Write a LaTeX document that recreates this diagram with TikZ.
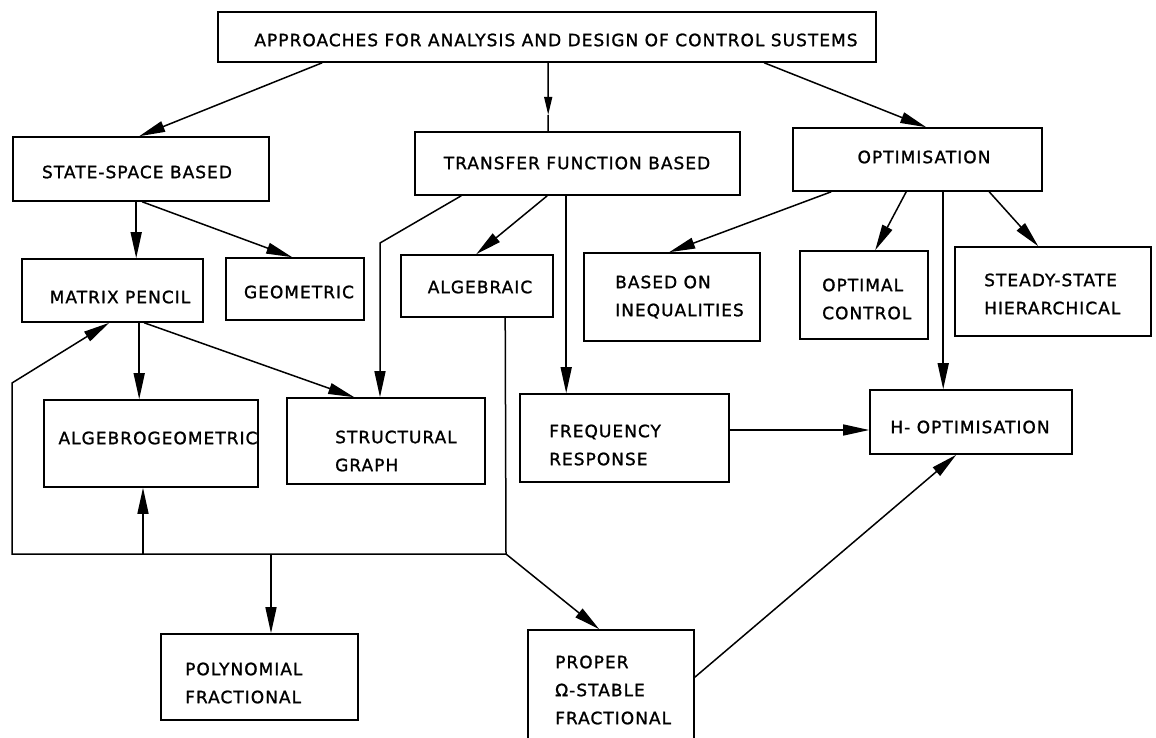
\documentclass[tikz,border=0pt]{standalone}
\usepackage{fontspec}
\usetikzlibrary{arrows.meta,calc}
\newfontfamily\lettering{DejaVu Sans}[LetterSpace=6, FakeBold=1.2]

% rectangle given by its corners (x1,y1) and (x2,y2), y measured downwards
\newcommand\boxnode[5]{%
  \node[blk, minimum width={(#4)-(#2)}, minimum height={(#5)-(#3)}]
    (#1) at ({((#2)+(#4))/2},{((#3)+(#5))/2}) {};}

\tikzset{
  blk/.style={draw, line width=1.6pt, inner sep=0pt, rectangle},
  lbl/.style={inner sep=0pt, align=left,
              font=\lettering\fontsize{17}{28}\selectfont},
  conn/.style={line width=1.5pt, line join=miter},
  arr/.style={conn, -{Triangle[length=26pt,width=11pt]}},
  shortarr/.style={conn, -{Triangle[length=18pt,width=8pt]}}
}

\begin{document}
\begin{tikzpicture}[x=1pt, y=-1pt]
\clip (0,0) rectangle (1156,737);
\fill[white] (0,0) rectangle (1156,737);

% boxes
\boxnode{top}{218}{12}{876}{62}
\boxnode{ss}{13}{137}{269}{201}
\boxnode{tf}{415}{132}{740}{195}
\boxnode{opt}{793}{128}{1042}{191}
\boxnode{mp}{22}{259}{203}{322}
\boxnode{geo}{226}{258}{364}{320}
\boxnode{alg}{401}{255}{553}{317}
\boxnode{boi}{584}{253}{760}{341}
\boxnode{oc}{800}{251}{928}{339}
\boxnode{shc}{955}{247}{1151}{336}
\boxnode{ag}{44}{400}{258}{487}
\boxnode{sg}{287}{398}{485}{484}
\boxnode{fr}{520}{394}{729}{482}
\boxnode{hopt}{870}{390}{1072}{454}
\boxnode{poly}{161}{634}{358}{720}
\boxnode{prop}{528}{630}{694}{770}

% labels
\node[lbl] (top-t) at (556,40) {APPROACHES FOR ANALYSIS AND DESIGN OF CONTROL SUSTEMS};
\node[lbl] (ss-t) at (137,172) {STATE-SPACE BASED};
\node[lbl] (tf-t) at (577,163) {TRANSFER FUNCTION BASED};
\node[lbl] (opt-t) at (924,157) {OPTIMISATION};
\node[lbl] (mp-t) at (120,297) {MATRIX PENCIL};
\node[lbl] (geo-t) at (299,292) {GEOMETRIC};
\node[lbl] (alg-t) at (480,287) {ALGEBRAIC};
\node[lbl, anchor=west] (boi-t) at (615,297) {BASED ON\\INEQUALITIES};
\node[lbl, anchor=west] (oc-t) at (822,299) {OPTIMAL\\CONTROL};
\node[lbl, anchor=west] (shc-t) at (984,294) {STEADY-STATE\\HIERARCHICAL};
\node[lbl] (ag-t) at (158,438) {ALGEBROGEOMETRIC};
\node[lbl, anchor=west] (sg-t) at (335,451) {STRUCTURAL\\GRAPH};
\node[lbl, anchor=west] (fr-t) at (549,445) {FREQUENCY\\RESPONSE};
\node[lbl] (h-t) at (970,427) {H- OPTIMISATION};
\node[lbl, anchor=west] (poly-t) at (185,683) {POLYNOMIAL\\FRACTIONAL};
\node[lbl, anchor=west] (prop-t) at (555,690) {PROPER\\Ω-STABLE\\FRACTIONAL};

% junction points of the routed connectors
\coordinate (tfk) at (380,243);
\coordinate (j1) at (506,554);
\coordinate (lc) at (12,554);
\coordinate (lt) at (12,383);
\coordinate (bag) at (143,554);
\coordinate (bpoly) at (271,554);

% from the main heading
\draw[arr] ([xshift=105pt]top.south west) -- ([xshift=127pt]ss.north west);
\draw[shortarr] ([xshift=331pt]top.south west) coordinate (s2)
  -- ($(s2)!0.76!(s2 |- tf.north)$) coordinate (s2m);
\draw[conn] (s2m) -- (s2 |- tf.north);
\draw[arr] ([xshift=547pt]top.south west) -- ([xshift=134pt]opt.north west);

% state-space branch
\draw[arr] ([xshift=124pt]ss.south west) coordinate (s4) -- (s4 |- mp.north);
\draw[arr] ([xshift=130pt]ss.south west) -- ([xshift=67pt]geo.north west);
\draw[arr] ([xshift=118pt]mp.south west) coordinate (s13) -- (s13 |- ag.north);
\draw[arr] ([xshift=123pt]mp.south west) -- ([xshift=68pt]sg.north west);

% transfer-function branch
\draw[arr] ([xshift=47pt]tf.south west) -- (tfk) -- (tfk |- sg.north);
\draw[arr] ([xshift=133pt]tf.south west) -- ([xshift=76pt]alg.north west);
\draw[arr] ([xshift=152pt]tf.south west) coordinate (s8) -- (s8 |- fr.north);

% optimisation branch
\draw[arr] ([xshift=39pt]opt.south west) -- ([xshift=86pt]boi.north west);
\draw[arr] ([xshift=114pt]opt.south west) -- ([xshift=76pt]oc.north west);
\draw[arr] ([xshift=151pt]opt.south west) coordinate (s11) -- (s11 |- hopt.north);
\draw[arr] ([xshift=197pt]opt.south west) -- ([xshift=84pt]shc.north west);

% algebraic loop and its branches
\draw[arr] ([xshift=105pt]alg.south west) -- (j1) -- (lc) -- (lt)
  -- ([xshift=88pt]mp.south west);
\draw[arr] (bag) -- (bag |- ag.south);
\draw[arr] (bpoly) -- (bpoly |- poly.north);
\draw[arr] (j1) -- ([xshift=72pt]prop.north west);

% into H- optimisation
\draw[arr] ([yshift=8pt]fr.east) coordinate (s16) -- (s16 -| hopt.west);
\draw[arr] ([yshift=-48pt]prop.north east) -- ([xshift=87pt]hopt.south west);
\end{tikzpicture}
\end{document}
